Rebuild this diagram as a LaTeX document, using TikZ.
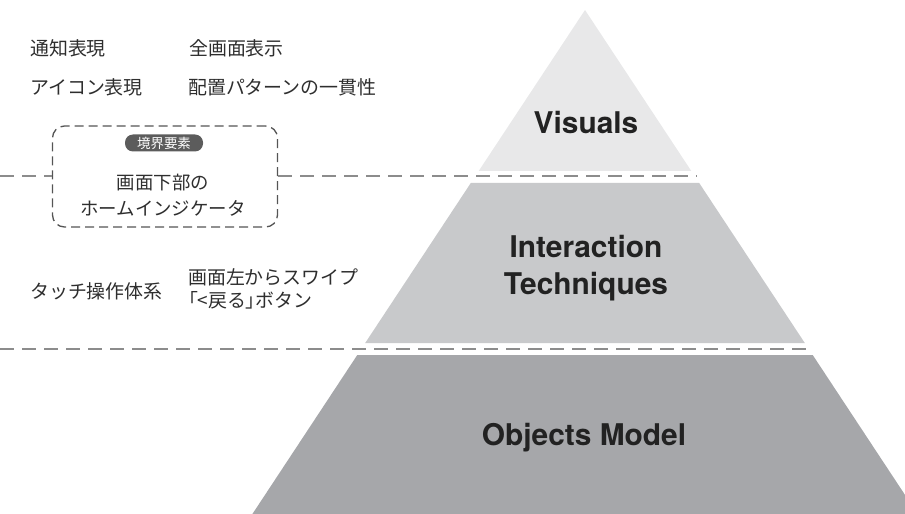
\documentclass[tikz,border=0pt]{standalone}
\usepackage{fontspec}
\setsansfont{TeX Gyre Heros}
\newfontfamily\jpfont{Noto Sans CJK JP}
\newfontfamily\jpprop{Noto Sans CJK JP}[RawFeature=+palt]
\definecolor{tierA}{HTML}{E8E8E9}
\definecolor{tierB}{HTML}{C8C9CB}
\definecolor{tierC}{HTML}{A6A7AA}
\definecolor{sepline}{HTML}{8C8C8C}
\definecolor{boxline}{HTML}{555555}
\definecolor{pillfill}{HTML}{5C5C5C}
\definecolor{ink}{HTML}{2E2E2E}
\definecolor{tierink}{HTML}{222222}
\tikzset{
  sep/.style={draw=sepline, line width=2bp, dash pattern=on 14bp off 8bp},
  jptext/.style={inner sep=0pt, text=ink, font=\jpfont\fontsize{19}{23}\selectfont},
  tiertext/.style={inner sep=0pt, text=tierink, align=center,
    font=\sffamily\bfseries\fontsize{30}{37}\selectfont},
  bound/.style={draw=boxline, line width=1.3bp, dash pattern=on 9bp off 5bp,
    rounded corners=12bp, minimum width=225bp, minimum height=101bp, inner sep=0pt},
  pill/.style={fill=pillfill, rounded corners=8bp, minimum width=78bp,
    minimum height=17bp, inner sep=0pt, text=white,
    font=\jpfont\fontsize{13.5}{13.5}\selectfont},
}
\begin{document}
\begin{tikzpicture}[x=1bp, y=-1bp]
\useasboundingbox (0,0) rectangle (905,514);

% pyramid tiers
\begin{scope}
  \clip (0,0) rectangle (905,514);
  \fill[tierA] (585,10) -- (691.3,171) -- (478.7,171) -- cycle;
  \fill[tierB] (470.8,183) -- (699.2,183) -- (804.8,343) -- (365.2,343) -- cycle;
  \fill[tierC] (357.3,355) -- (812.7,355) -- (917.6,514) -- (252.4,514) -- cycle;
\end{scope}

\node[tiertext] (vis) at (586,123) {Visuals};
\node[tiertext] (itech) at (586,268.5) {Interaction\\Techniques};
\node[tiertext] (objm) at (584,438) {Objects Model};

% boundary element box
\node[bound] (hb) at (165,176.5) {};
\node[pill] (tag) at (164,143) {境界要素};
\node[jptext, align=center, font=\jpfont\fontsize{18.5}{26}\selectfont] (home) at (163,195.5)
  {画面下部の\\ホームインジケータ};

% separators
\coordinate (s1l) at (0,176);
\coordinate (s1r) at (697,176);
\coordinate (s2l) at (0,349);
\coordinate (s2r) at (810,349);
\draw[sep] (s1l) -- (s1l -| hb.west);
\draw[sep] (s1r -| hb.east) -- (s1r);
\draw[sep] (s2l) -- (s2r);

% visual layer items
\node[jptext, anchor=west] (notif) at (30,48) {通知表現};
\node[jptext, anchor=west] (full) at (189,48) {全画面表示};
\node[jptext, anchor=west] (icon) at (30,87) {アイコン表現};
\node[jptext, anchor=west] (place) at (188,87) {配置パターンの一貫性};

% interaction layer items
\node[jptext, anchor=west] (touch) at (30,291) {タッチ操作体系};
\node[jptext, anchor=west, align=left] (nav) at (188,288.5)
  {画面左からスワイプ\\{\jpprop 「}<戻る{\jpprop 」}ボタン};
\end{tikzpicture}
\end{document}
